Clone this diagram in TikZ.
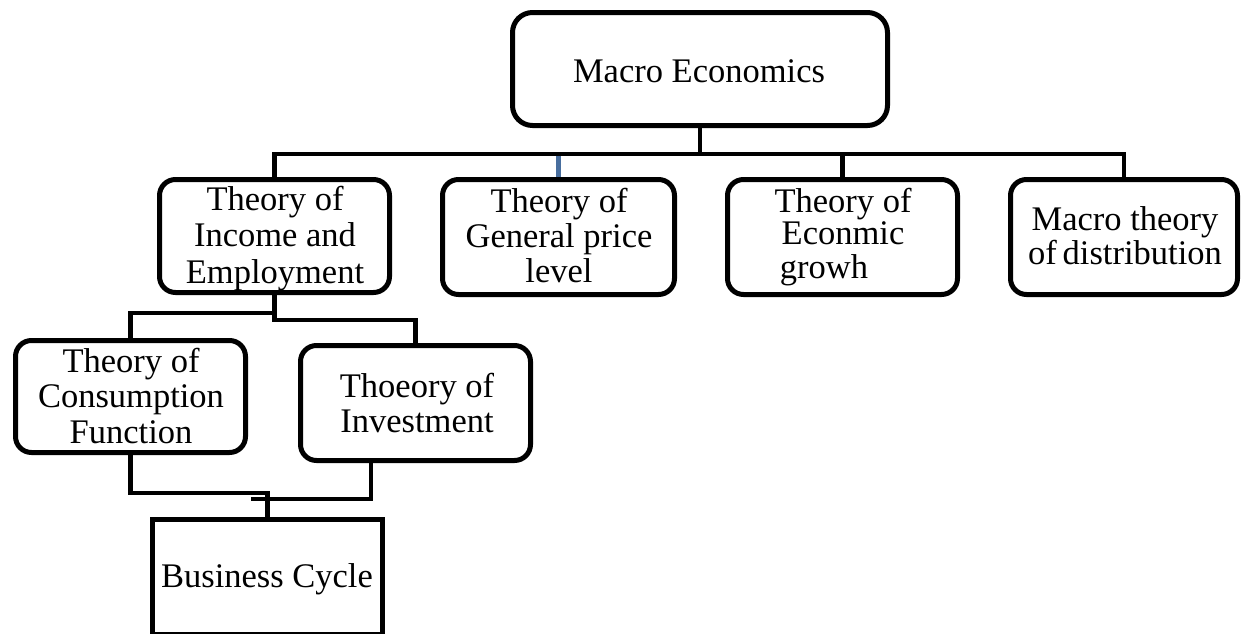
\documentclass[tikz,border=0pt]{standalone}
\usepackage{fontspec}
\setmainfont{Liberation Serif}
\usepackage{array}

% stacked, centred lines whose baseline is that of the first line
\newcommand{\stackedlines}[2]{{\fontsize{34.5}{#1}\selectfont\begin{tabular}[t]{@{}c@{}}#2\end{tabular}}}

\definecolor{stemblue}{RGB}{72,110,158}

\begin{document}
\begin{tikzpicture}[x=1pt,y=-1pt,
  rbox/.style={draw=black, line width=5pt, rounded corners=16pt, fill=white,
    minimum width=230pt, minimum height=115pt, inner sep=0pt},
  sbox/.style={draw=black, line width=5pt, fill=white,
    minimum width=230pt, minimum height=115pt, inner sep=0pt},
  label/.style={anchor=base, inner sep=0pt, font=\fontsize{34.5}{36}\selectfont},
  conn/.style={draw=black, line width=4.8pt},
  blueconn/.style={draw=stemblue, line width=4.5pt}]

\useasboundingbox (0,0) rectangle (1243,633);
\clip (0,0) rectangle (1243,633);

% bus levels and free connector ends
\coordinate (bus) at (0,154);
\coordinate (j1) at (0,313);
\coordinate (j2) at (0,320);
\coordinate (k1) at (0,493);
\coordinate (k2) at (0,499);
\coordinate (s6) at (371,0);
\coordinate (k2end) at (251,499);

% boxes
\node[rbox, minimum width=375pt, minimum height=113pt, rounded corners=20pt] (top) at (700,69) {};
\node[rbox, minimum height=113pt] (b1) at (274.5,236) {};
\node[rbox, minimum width=232pt] (b2) at (558.5,237) {};
\node[rbox] (b3) at (842.5,237) {};
\node[rbox, minimum width=227pt] (b4) at (1124,237) {};
\node[rbox, minimum height=112pt] (b5) at (130.5,396.5) {};
\node[rbox] (b6) at (415.5,403) {};
\node[sbox] (bc) at (267.5,577) {};

% texts
\node[label] (ttop) at (699,82) {Macro Economics};
\node[label] (t1) at (275,210) {\stackedlines{36.5}{Theory of\\Income and\\Employment}};
\node[label] (t2) at (559,212) {\stackedlines{35}{Theory of\\General price\\level}};
\node[label] (t3) at (843,212) {\stackedlines{32.5}{Theory of\\Econmic\\growh\hspace*{1.1em}}};
\node[label] (t4) at (1125,230) {\stackedlines{34}{Macro theory\\of\hspace{-0.08em} distribution}};
\node[label] (t5) at (131,372) {\stackedlines{35.5}{Theory of\\Consumption\\Function}};
\node[label] (t6) at (417,397) {\stackedlines{35}{Thoeory of\\Investment}};
\node[label] (tbc) at (267,587) {Business Cycle};

% first level connectors
\draw[blueconn] (b2.north) -- (b2.north |- bus);
\draw[conn] (top.south) -- (top.south |- bus);
\draw[conn] (b1.north) -- (b1.north |- bus) -- (b4.north |- bus) -- (b4.north);
\draw[conn] (b3.north) -- (b3.north |- bus);

% second level connectors
\draw[conn] (b1.south) -- (b1.south |- j2) -- (b6.north |- j2) -- (b6.north);
\draw[conn] (b1.south |- j1) -- (b5.north |- j1) -- (b5.north);

% connectors into the business cycle box
\draw[conn] (b5.south) -- (b5.south |- k1) -- (bc.north |- k1) -- (bc.north);
\draw[conn] (b6.south -| s6) -- (s6 |- k2) -- (k2end);
\end{tikzpicture}
\end{document}
